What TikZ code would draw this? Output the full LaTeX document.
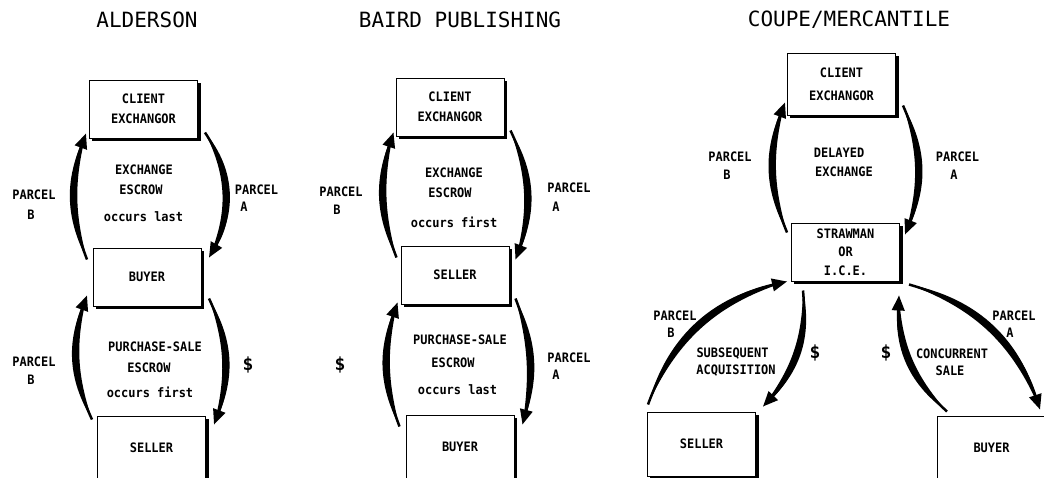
\documentclass[tikz,border=0pt]{standalone}
\usepackage{fontspec}
\newfontfamily\monof{DejaVu Sans Mono}
\newfontfamily\lblf{DejaVu Sans Mono}[FakeStretch=0.92]
\usetikzlibrary{arrows.meta}
\newcommand\fatarc[4]{%
  \pgfmathsetmacro\fatO{#3+#4}%
  \pgfmathsetmacro\fatI{#3-#4}%
  \fill (#1) to[bend left=\fatO] (#2) to[bend right=\fatI] (#1) -- cycle;
  \draw[arcline] (#1) to[bend left=#3] (#2);
}
\newcommand\boxshadow[1]{%
  \fill ([shift={(0,3)}]#1.north east) rectangle ([shift={(2.6,2.6)}]#1.south east);
  \fill ([shift={(3,0)}]#1.south west) rectangle ([shift={(2.6,2.6)}]#1.south east);
}
\begin{document}
\begin{tikzpicture}[x=1pt,y=-1pt,
  box/.style={draw, line width=1pt, fill=white, minimum width=108pt, minimum height=58pt,
    inner sep=0pt, align=center, font=\lblf\bfseries\fontsize{13}{20}\selectfont},
  tallbox/.style={box, minimum height=64pt},
  lbl/.style={inner sep=0pt, font=\lblf\bfseries\fontsize{13}{15}\selectfont},
  ttl/.style={inner sep=0pt, font=\monof\fontsize{21}{24}\selectfont},
  dollar/.style={inner sep=0pt, font=\monof\bfseries\fontsize{18}{20}\selectfont},
  arcline/.style={line width=2.5pt, -{Triangle[length=15pt,width=12.5pt]}}]
\useasboundingbox[fill=white] (0,0) rectangle (1044,477);

% titles
\node[ttl] (t1) at (147,19.5) {ALDERSON};
\node[ttl] (t2) at (460,19.5) {BAIRD PUBLISHING};
\node[ttl] (t3) at (849,19.5) {COUPE/MERCANTILE};

% boxes
\node[box] (aCE) at (143.5,109) {CLIENT\\EXCHANGOR};
\node[box] (aBuy) at (147,277) {BUYER};
\node[tallbox] (aSel) at (151.5,448) {SELLER};
\node[box] (bCE) at (450,107) {CLIENT\\EXCHANGOR};
\node[box] (bSel) at (455,275) {SELLER};
\node[tallbox] (bBuy) at (460,447) {BUYER};
\node[box, minimum height=62pt, font=\lblf\bfseries\fontsize{13}{23}\selectfont] (cCE) at (841.5,84) {CLIENT\\EXCHANGOR};
\node[box, font=\lblf\bfseries\fontsize{13}{18.5}\selectfont] (cStr) at (845.5,252) {STRAWMAN\\OR\\I.C.E.};
\node[tallbox] (cSel) at (701.5,444) {SELLER};
\node[tallbox] (cBuy) at (991.5,448) {BUYER};
\boxshadow{aCE}\boxshadow{aBuy}\boxshadow{aSel}
\boxshadow{bCE}\boxshadow{bSel}\boxshadow{bBuy}
\boxshadow{cCE}\boxshadow{cStr}\boxshadow{cSel}\boxshadow{cBuy}

% arrow end points
\coordinate (a1s) at ([shift={(-5.5,12)}]aBuy.north west);
\coordinate (a1e) at ([shift={(-3,-5)}]aCE.south west);
\coordinate (a2s) at ([shift={(7,-6)}]aCE.south east);
\coordinate (a2e) at ([shift={(7.5,10)}]aBuy.north east);
\coordinate (a3s) at ([shift={(-5,4)}]aSel.north west);
\coordinate (a3e) at ([shift={(-5.5,-11)}]aBuy.south west);
\coordinate (a4s) at ([shift={(7.5,-8)}]aBuy.south east);
\coordinate (a4e) at ([shift={(8,9)}]aSel.north east);
\coordinate (b1s) at ([shift={(-4,12)}]bSel.north west);
\coordinate (b1e) at ([shift={(-2,-4)}]bCE.south west);
\coordinate (b2s) at ([shift={(6,-6)}]bCE.south east);
\coordinate (b2e) at ([shift={(6,14)}]bSel.north east);
\coordinate (b3s) at ([shift={(-6,12)}]bBuy.north west);
\coordinate (b3e) at ([shift={(-3,-2)}]bSel.south west);
\coordinate (b4s) at ([shift={(6,-6)}]bSel.south east);
\coordinate (b4e) at ([shift={(8,10)}]bBuy.north east);
\coordinate (c1s) at ([shift={(-4,10)}]cStr.north west);
\coordinate (c1e) at ([shift={(-2,-13)}]cCE.south west);
\coordinate (c2s) at ([shift={(7,-10)}]cCE.south east);
\coordinate (c2e) at ([shift={(5,12)}]cStr.north east);
\coordinate (c3s) at ([shift={(1,-7)}]cSel.north west);
\coordinate (c3e) at ([shift={(-4,0)}]cStr.south west);
\coordinate (c4s) at ([shift={(12,9)}]cStr.south west);
\coordinate (c4e) at ([shift={(7,-5)}]cSel.north east);
\coordinate (c5s) at ([shift={(10,-4)}]cBuy.north west);
\coordinate (c5e) at ([shift={(-1,14)}]cStr.south east);
\coordinate (c6s) at ([shift={(9,3)}]cStr.south east);
\coordinate (c6e) at ([shift={(-6,-6)}]cBuy.north east);

% arrows
\fatarc{a1s}{a1e}{20.6}{6.2}
\fatarc{a2s}{a2e}{31.8}{6.8}
\fatarc{a3s}{a3e}{22.4}{6.3}
\fatarc{a4s}{a4e}{22.9}{6.2}
\fatarc{b1s}{b1e}{19.7}{6.2}
\fatarc{b2s}{b2e}{23.1}{6.1}
\fatarc{b3s}{b3e}{19.9}{6.2}
\fatarc{b4s}{b4e}{18}{6.2}
\fatarc{c1s}{c1e}{21.3}{6}
\fatarc{c2s}{c2e}{23.1}{6.1}
\fatarc{c3s}{c3e}{28.4}{4.5}
\fatarc{c4s}{c4e}{24.4}{6.4}
\fatarc{c5s}{c5e}{25.5}{6.4}
\fatarc{c6s}{c6e}{27.9}{4.6}

% Alderson labels
\node[lbl] (la1) at (34,195) {PARCEL};
\node[lbl] (la1b) at (31,215) {B};
\node[lbl] (la2) at (256.5,190) {PARCEL};
\node[lbl] (la2b) at (244,207) {A};
\node[lbl] (la3) at (144,170) {EXCHANGE};
\node[lbl] (la3b) at (141,190) {ESCROW};
\node[lbl] (la3c) at (143.5,217) {occurs last};
\node[lbl] (la4) at (155,347) {PURCHASE-SALE};
\node[lbl] (la4b) at (149,368) {ESCROW};
\node[lbl] (la4c) at (150,392) {occurs first};
\node[lbl] (la5) at (34,362) {PARCEL};
\node[lbl] (la5b) at (31,380) {B};
\node[dollar] (la6) at (248,365) {\$};

% Baird labels
\node[lbl] (lb1) at (341,192) {PARCEL};
\node[lbl] (lb1b) at (337,210) {B};
\node[lbl] (lb2) at (569,188) {PARCEL};
\node[lbl] (lb2b) at (556,207) {A};
\node[lbl] (lb3) at (454,173) {EXCHANGE};
\node[lbl] (lb3b) at (450,193) {ESCROW};
\node[lbl] (lb3c) at (454,222) {occurs first};
\node[lbl] (lb4) at (460,340) {PURCHASE-SALE};
\node[lbl] (lb4b) at (453,363) {ESCROW};
\node[lbl] (lb4c) at (457.5,390) {occurs last};
\node[dollar] (lb5) at (340,365) {\$};
\node[lbl] (lb6) at (569,358) {PARCEL};
\node[lbl] (lb6b) at (556,375) {A};

% Coupe labels
\node[lbl] (lc1) at (730,157) {PARCEL};
\node[lbl] (lc1b) at (727,175) {B};
\node[lbl] (lc2) at (839,153) {DELAYED};
\node[lbl] (lc2b) at (844,172) {EXCHANGE};
\node[lbl] (lc3) at (957.5,157) {PARCEL};
\node[lbl] (lc3b) at (954,175) {A};
\node[lbl] (lc4) at (675,316) {PARCEL};
\node[lbl] (lc4b) at (671,333) {B};
\node[lbl] (lc5) at (732.5,354) {SUBSEQUENT};
\node[lbl] (lc5b) at (736,371) {ACQUISITION};
\node[dollar] (lc6) at (815,353) {\$};
\node[dollar] (lc7) at (886,353) {\$};
\node[lbl] (lc8) at (952,354) {CONCURRENT};
\node[lbl] (lc8b) at (950,371) {SALE};
\node[lbl] (lc9) at (1014,316) {PARCEL};
\node[lbl] (lc9b) at (1010,333) {A};
\end{tikzpicture}
\end{document}
